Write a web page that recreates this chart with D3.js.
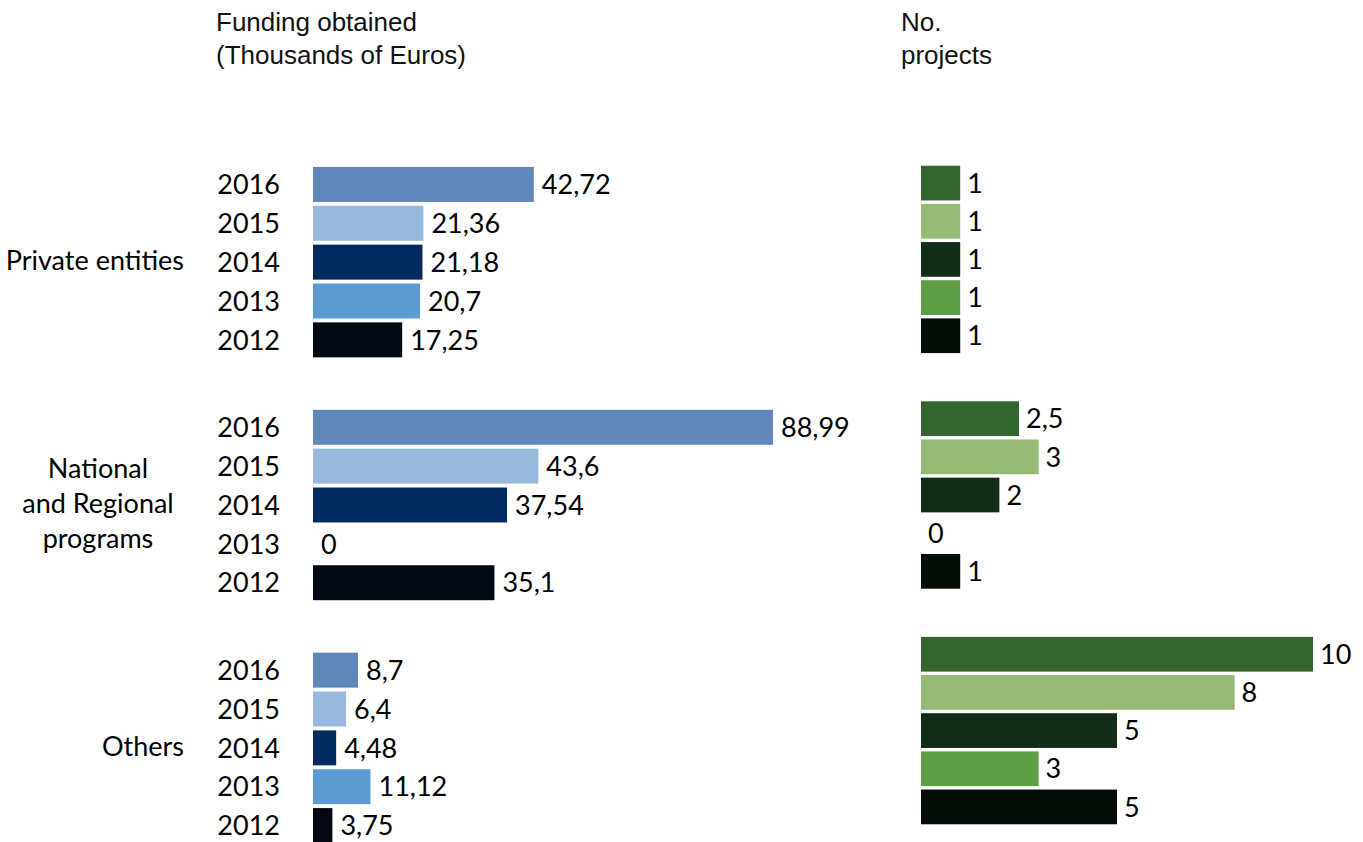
<!DOCTYPE html>
<html><head><meta charset="utf-8">
<script src="https://cdn.jsdelivr.net/npm/d3@7"></script>
<style>body{margin:0;background:#fff}</style>
</head><body>
<svg id="c" width="1363" height="842"></svg>
<script>
const groups = ["Private entities", "National and Regional programs", "Others"];
const groupLines = [["Private entities"], ["National", "and Regional", "programs"], ["Others"]];
const years = ["2016", "2015", "2014", "2013", "2012"];
const funding = [
  [42.72, 21.36, 21.18, 20.7, 17.25],
  [88.99, 43.6, 37.54, 0, 35.1],
  [8.7, 6.4, 4.48, 11.12, 3.75]
];
const projects = [
  [1, 1, 1, 1, 1],
  [2.5, 3, 2, 0, 1],
  [10, 8, 5, 3, 5]
];
const fundColors = ["#5f87b9", "#96b9dc", "#012c62", "#5b9bd4", "#010a14"];
const projColors = ["#33652e", "#96ba76", "#132d17", "#5c9d45", "#020d05"];
const headerLeft = ["Funding obtained", "(Thousands of Euros)"];
const headerRight = ["No.", "projects"];

const svg = d3.select("#c");
const labelFont = "Lato, 'Noto Sans', sans-serif";
const headFont = "'Liberation Sans', Arial, sans-serif";
const LFS = 27;
const fmt = v => String(v).replace(".", ",");

// scales
const xL = d3.scaleLinear().domain([0, 100]).range([313, 829.9]);
const xR = d3.scaleLinear().domain([0, 10]).range([921, 1313]);
const gL = d3.scaleBand().domain(groups).range([165, 845]).paddingInner(0.2);
const gR = d3.scaleBand().domain(groups).range([164, 826]).paddingInner(0.19);
const yL = d3.scaleBand().domain(years).range([0, gL.bandwidth()]).paddingInner(0.1).paddingOuter(0.05);
const yR = d3.scaleBand().domain(years).range([0, gR.bandwidth()]).paddingInner(0.09).paddingOuter(0.045);

// headers
function header(lines, x) {
  svg.append("text").attr("x", x).attr("y", 31)
    .attr("font-family", headFont).attr("font-size", 26).attr("fill", "#111")
    .selectAll("tspan").data(lines).join("tspan")
    .attr("x", x).attr("dy", (d, i) => i ? 33 : 0).text(d => d);
}
header(headerLeft, 216);
header(headerRight, 901);

groups.forEach((g, gi) => {
  const y0L = gL(g), y0R = gR(g);
  // group label
  const lines = groupLines[gi];
  const cy = y0L + gL.bandwidth() / 2 - 2;
  const multi = lines.length > 1;
  const t = svg.append("text")
    .attr("font-family", labelFont).attr("font-size", LFS).attr("fill", "#000")
    .attr("text-anchor", multi ? "middle" : "end");
  t.selectAll("tspan").data(lines).join("tspan")
    .attr("x", multi ? 98 : 184)
    .attr("y", (d, i) => cy + (i - (lines.length - 1) / 2) * 35)
    .attr("dy", "0.36em").text(d => d);

  // year labels
  svg.append("g").selectAll("text").data(years).join("text")
    .attr("x", 280).attr("y", d => y0L + yL(d) + yL.bandwidth() / 2).attr("dy", "0.36em")
    .attr("text-anchor", "end").attr("font-family", labelFont).attr("font-size", LFS)
    .attr("fill", "#000").text(d => d);

  // left bars
  const dl = years.map((y, i) => ({ y, v: funding[gi][i], c: fundColors[i] }));
  svg.append("g").selectAll("rect").data(dl).join("rect")
    .attr("x", xL(0)).attr("y", d => y0L + yL(d.y))
    .attr("width", d => xL(d.v) - xL(0)).attr("height", yL.bandwidth())
    .attr("fill", d => d.c);
  svg.append("g").selectAll("text").data(dl).join("text")
    .attr("x", d => xL(d.v) + 8).attr("y", d => y0L + yL(d.y) + yL.bandwidth() / 2).attr("dy", "0.36em")
    .attr("font-family", labelFont).attr("font-size", LFS).attr("fill", "#000")
    .text(d => fmt(d.v));

  // right bars
  const dr = years.map((y, i) => ({ y, v: projects[gi][i], c: projColors[i] }));
  svg.append("g").selectAll("rect").data(dr).join("rect")
    .attr("x", xR(0)).attr("y", d => y0R + yR(d.y))
    .attr("width", d => xR(d.v) - xR(0)).attr("height", yR.bandwidth())
    .attr("fill", d => d.c);
  svg.append("g").selectAll("text").data(dr).join("text")
    .attr("x", d => xR(d.v) + 7).attr("y", d => y0R + yR(d.y) + yR.bandwidth() / 2).attr("dy", "0.36em")
    .attr("font-family", labelFont).attr("font-size", LFS).attr("fill", "#000")
    .text(d => fmt(d.v));
});
</script>
</body></html>
